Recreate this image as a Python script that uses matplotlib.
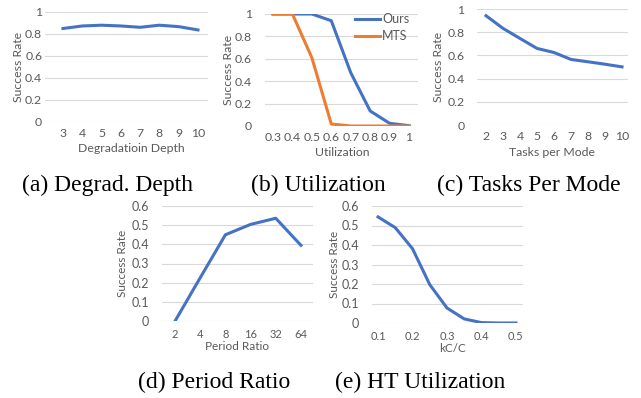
import matplotlib
matplotlib.use("Agg")
import matplotlib.pyplot as plt
from matplotlib.font_manager import FontProperties

plt.rcParams['font.family'] = ['Lato', 'DejaVu Sans']

# data
depth = ['3', '4', '5', '6', '7', '8', '9', '10']
depth_rate = [0.85, 0.873, 0.88, 0.873, 0.861, 0.88, 0.867, 0.837]

util = ['0.3', '0.4', '0.5', '0.6', '0.7', '0.8', '0.9', '1']
util_ours = [1.0, 1.0, 1.0, 0.94, 0.476, 0.134, 0.024, 0.003]
util_mts = [1.0, 1.0, 0.61, 0.018, 0.0, 0.0, 0.0, 0.0]

tasks = ['2', '3', '4', '5', '6', '7', '8', '9', '10']
tasks_rate = [0.942, 0.833, 0.746, 0.66, 0.625, 0.565, 0.545, 0.524, 0.501]

period = ['2', '4', '8', '16', '32', '64']
period_rate = [0.0, 0.226, 0.45, 0.504, 0.536, 0.395]

kc = ['0.1', '0.15', '0.2', '0.25', '0.3', '0.35', '0.4', '0.45', '0.5']
kc_rate = [0.544, 0.489, 0.381, 0.197, 0.077, 0.021, 0.002, 0.0, 0.0]

captions = ['(a) Degrad. Depth', '(b) Utilization', '(c) Tasks Per Mode',
            '(d) Period Ratio', '(e) HT Utilization']

BLUE = '#4472C4'
ORANGE = '#ED7D31'
GRAY = '#595959'
W, H = 641, 398

fig = plt.figure(figsize=(W / 100, H / 100), dpi=100)


def make_ax(x0, x1, ytop, ybot):
    ax = fig.add_axes([x0 / W, 1 - ybot / H, (x1 - x0) / W, (ybot - ytop) / H])
    ax.px = (x0, x1, ytop, ybot)
    for s in ax.spines.values():
        s.set_visible(False)
    ax.grid(axis='y', color='#D9D9D9', lw=0.8)
    ax.set_axisbelow(True)
    ax.tick_params(length=0, colors=GRAY)
    return ax


def style(ax, labels, xlab, xtick_fs, ytick_fs, xpad, ypad, xl_pos, yl_x,
          lab_fs=8.8, every=1):
    x0, x1, ytop, ybot = ax.px
    ax.set_xticks(range(0, len(labels), every))
    ax.set_xticklabels(labels[::every])
    ax.tick_params(axis='x', labelsize=xtick_fs, pad=xpad)
    ax.tick_params(axis='y', labelsize=ytick_fs, pad=ypad)
    ax.set_xlabel(xlab, fontsize=lab_fs, color=GRAY, va='center')
    ax.xaxis.set_label_coords((xl_pos[0] - x0) / (x1 - x0),
                              (ybot - xl_pos[1]) / (ybot - ytop))
    ax.set_ylabel('Success Rate', fontsize=lab_fs, color=GRAY, va='center')
    ax.yaxis.set_label_coords((yl_x - x0) / (x1 - x0), 0.5)


yt1 = [0, 0.2, 0.4, 0.6, 0.8, 1]
yl1 = ['0', '0.2', '0.4', '0.6', '0.8', '1']
yt2 = [0, 0.1, 0.2, 0.3, 0.4, 0.5, 0.6]
yl2 = ['0', '0.1', '0.2', '0.3', '0.4', '0.5', '0.6']

# (a)
ax = make_ax(45, 208, 12, 122)
ax.plot(range(len(depth)), depth_rate, color=BLUE, lw=2.2)
ax.set_ylim(0, 1)
ax.set_yticks(yt1, yl1)
ax.set_xlim(-0.93, 7.52)
style(ax, depth, 'Degradatioin Depth', 8.8, 8.8, 4.5, 2, (131, 148), 18)

# (b)
ax = make_ax(265, 418, 14, 126)
ax.plot(range(len(util)), util_ours, color=BLUE, lw=2.2, label='Ours')
ax.plot(range(len(util)), util_mts, color=ORANGE, lw=2.2, label='MTS')
ax.set_ylim(0, 1)
ax.set_yticks(yt1, yl1)
ax.set_xlim(-0.41, 7.46)
style(ax, util, 'Utilization', 8.8, 8.8, 4.5, 9.5, (342, 153), 228)
leg = ax.legend(loc='upper right', bbox_to_anchor=(0.975, 1.05), frameon=False,
                fontsize=9, handlelength=2.0, handletextpad=0.2,
                labelspacing=0.4, borderaxespad=0)
for t in leg.get_texts():
    t.set_color(GRAY)

# (c)
ax = make_ax(477, 628, 9, 125)
ax.plot(range(len(tasks)), tasks_rate, color=BLUE, lw=2.2)
ax.set_ylim(0, 1)
ax.set_yticks(yt1, yl1)
ax.set_xlim(-0.53, 8.35)
style(ax, tasks, 'Tasks per Mode', 8.8, 8.8, 4.5, 9, (552, 152), 438)

# (d)
ax = make_ax(162, 313, 206, 321)
ax.plot(range(len(period)), period_rate, color=BLUE, lw=2.2)
ax.set_ylim(0, 0.6)
ax.set_yticks(yt2, yl2)
ax.set_xlim(-0.52, 5.48)
style(ax, period, 'Period Ratio', 8, 9, 5.5, 9.5, (237, 346), 123, lab_fs=8.5)

# (e)
ax = make_ax(372, 523, 206, 323)
ax.plot(range(len(kc)), kc_rate, color=BLUE, lw=2.2)
ax.set_ylim(0, 0.6)
ax.set_yticks(yt2, yl2)
ax.set_xlim(-0.35, 8.41)
style(ax, kc, 'kC/C', 8, 9, 6, 9.5, (453, 348), 335, lab_fs=8.5, every=2)

# captions, Times-like serif
serif = FontProperties(fname='/usr/share/fonts/truetype/liberation/LiberationSerif-Regular.ttf',
                       size=17)
cap_pos = [(107, 185), (318, 185), (529, 185), (214, 382), (420, 382)]
for (cx, cy), txt in zip(cap_pos, captions):
    fig.text(cx / W, 1 - cy / H, txt, ha='center', va='center',
             fontproperties=serif, color='black')

fig.savefig('out.png', dpi=100)
